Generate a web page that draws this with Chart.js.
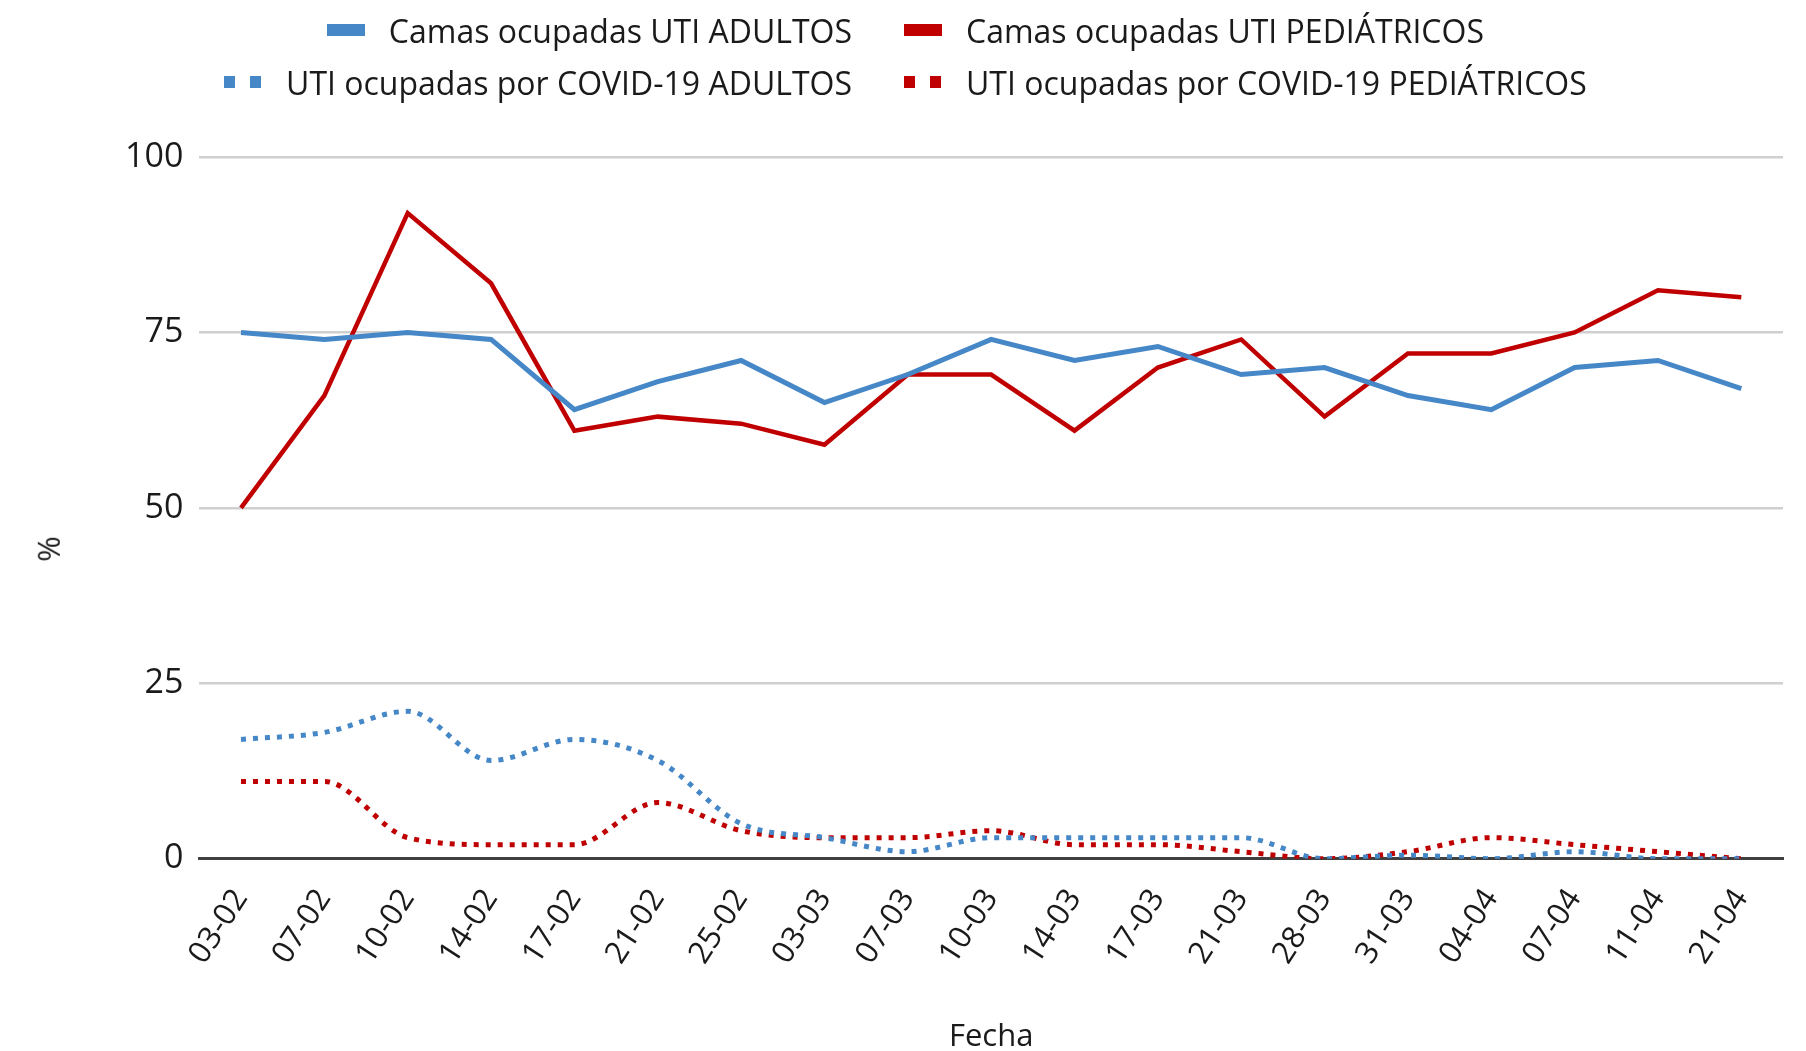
<!DOCTYPE html>
<html>
<head>
<meta charset="utf-8">
<script src="https://cdn.jsdelivr.net/npm/chart.js@4.4.0/dist/chart.umd.min.js"></script>
<style>
  body { margin: 0; background: #fff; font-family: "Open Sans", sans-serif; overflow: hidden; }
  #wrap { position: relative; width: 1806px; height: 1051px; overflow: hidden; }
  #chart { position: absolute; left: 0; top: 0; }
  #legend {
    position: absolute; left: 0; top: 8px; width: 1806px;
    display: grid; grid-template-columns: 880px 926px; row-gap: 8px;
    font-size: 32px; color: #1a1a1a;
  }
  .item { display: flex; align-items: center; height: 44px; white-space: nowrap; }
  .item.l { justify-content: flex-end; padding-right: 28px; }
  .item.r { justify-content: flex-start; padding-left: 24px; }
  .mk { width: 38px; height: 12px; margin-right: 24px; }
  #ytitle {
    position: absolute; left: 35px; top: 528px; font-size: 31px; color: #1a1a1a;
    transform: rotate(-90deg); transform-origin: center;
  }
</style>
</head>
<body>
<div id="wrap">
  <canvas id="chart" width="1806" height="1056"></canvas>
  <div id="legend"></div>
  <div id="ytitle">%</div>
</div>
<script>
// ====== DADOS ======
const fechas = ["03-02", "07-02", "10-02", "14-02", "17-02", "21-02", "25-02", "03-03", "07-03", "10-03",
  "14-03", "17-03", "21-03", "28-03", "31-03", "04-04", "07-04", "11-04", "21-04"];
const camasAdultos = [75, 74, 75, 74, 64, 68, 71, 65, 69, 74, 71, 73, 69, 70, 66, 64, 70, 71, 67];
const camasPediatricos = [50, 66, 92, 82, 61, 63, 62, 59, 69, 69, 61, 70, 74, 63, 72, 72, 75, 81, 80];
const covidAdultos = [17, 18, 21, 14, 17, 14, 5, 3, 1, 3, 3, 3, 3, 0, 0.5, 0, 1, 0, 0];
const covidPediatricos = [11, 11, 3, 2, 2, 8, 4, 3, 3, 4, 2, 2, 1, 0, 1, 3, 2, 1, 0];
const yTicks = [0, 25, 50, 75, 100];

const AZUL = "#4587c7";
const VERMELHO = "#c00000";
const FONTE = "'Open Sans', sans-serif";

// ====== LEGENDA ======
const itensLegenda = [
  { texto: "Camas ocupadas UTI ADULTOS", cor: AZUL, pontilhado: false, lado: "l" },
  { texto: "Camas ocupadas UTI PEDIÁTRICOS", cor: VERMELHO, pontilhado: false, lado: "r" },
  { texto: "UTI ocupadas por COVID-19 ADULTOS", cor: AZUL, pontilhado: true, lado: "l" },
  { texto: "UTI ocupadas por COVID-19 PEDIÁTRICOS", cor: VERMELHO, pontilhado: true, lado: "r" }
];
const legenda = document.getElementById("legend");
itensLegenda.forEach(it => {
  const div = document.createElement("div");
  div.className = "item " + it.lado;
  const mk = document.createElement("span");
  mk.className = "mk";
  mk.style.background = it.pontilhado
    ? `linear-gradient(to right, ${it.cor} 0 11px, transparent 11px 26px, ${it.cor} 26px 37px, transparent 37px)`
    : it.cor;
  const txt = document.createElement("span");
  txt.textContent = it.texto;
  div.appendChild(mk);
  div.appendChild(txt);
  legenda.appendChild(div);
});

// ====== GRÁFICO ======
const ctx = document.getElementById("chart").getContext("2d");
new Chart(ctx, {
  type: "line",
  data: {
    labels: fechas,
    datasets: [
      { label: "Camas ocupadas UTI ADULTOS", data: camasAdultos, borderColor: AZUL, borderWidth: 5, pointRadius: 0, tension: 0 },
      { label: "Camas ocupadas UTI PEDIÁTRICOS", data: camasPediatricos, borderColor: VERMELHO, borderWidth: 4.5, pointRadius: 0, tension: 0 },
      { label: "UTI ocupadas por COVID-19 ADULTOS", data: covidAdultos, borderColor: AZUL, borderWidth: 5, borderDash: [5, 7], borderCapStyle: "butt", pointRadius: 0, cubicInterpolationMode: "monotone" },
      { label: "UTI ocupadas por COVID-19 PEDIÁTRICOS", data: covidPediatricos, borderColor: VERMELHO, borderWidth: 5, borderDash: [5, 7], borderCapStyle: "butt", pointRadius: 0, cubicInterpolationMode: "monotone" }
    ]
  },
  options: {
    responsive: false,
    animation: false,
    layout: { padding: { top: 157, left: 109, right: 23, bottom: 0 } },
    plugins: { legend: { display: false }, tooltip: { enabled: false } },
    scales: {
      x: {
        offset: true,
        grid: { display: false },
        border: { display: true, color: "#404040", width: 3 },
        ticks: { color: "#1a1a1a", font: { family: FONTE, size: 31 }, minRotation: 57, maxRotation: 57, padding: 16, autoSkip: false },
        title: { display: true, text: "Fecha", color: "#1a1a1a", font: { family: FONTE, size: 31 }, padding: { top: 32, bottom: 0 } }
      },
      y: {
        min: 0, max: 100,
        afterBuildTicks: axis => { axis.ticks = yTicks.map(v => ({ value: v })); },
        grid: {
          drawTicks: false,
          color: c => c.tick && c.tick.value === 0 ? "rgba(0,0,0,0)" : "#d0d0d0",
          lineWidth: 2.5
        },
        border: { display: false },
        ticks: { color: "#1a1a1a", font: { family: FONTE, size: 34 }, padding: 16 }
      }
    }
  }
});
</script>
</body>
</html>
